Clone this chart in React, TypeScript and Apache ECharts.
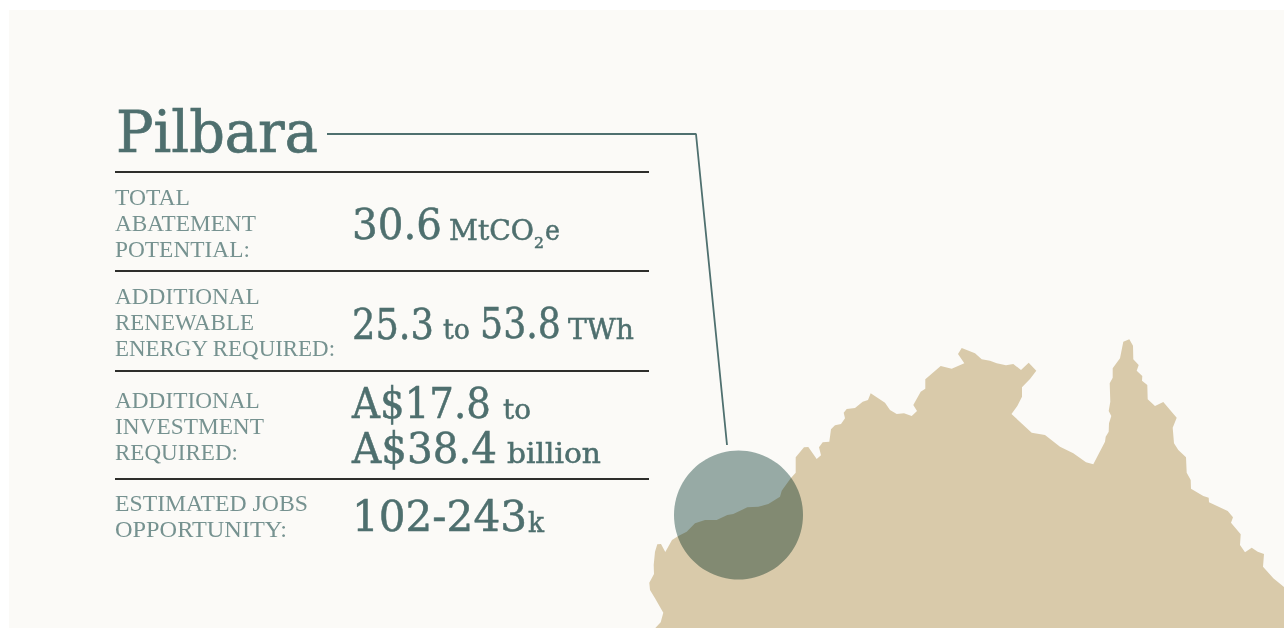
import React, { useEffect, useRef } from "react";
import * as echarts from "echarts";

const WIDTH = 1284;
const HEIGHT = 628;
const TEAL = "#4E6F6E";
const LABEL = "#769290";

// Northern Australian coastline.
const coastline: [number, number][] = [
  [655.3, 628], [660.7, 622.3], [663.3, 612.7], [655, 598.3], [650, 590], [649.3, 582.7], [654, 574],
  [653.7, 565], [655, 551.7], [657.3, 544.3], [661, 544], [665.3, 552], [672, 540], [678.3, 536],
  [686.7, 531.7], [695, 523.3], [705, 520], [716.7, 520], [727.3, 515], [733.3, 514], [747.3, 507.3],
  [758.3, 506.7], [768.3, 504], [780, 496.7], [781.7, 490.7], [790.7, 478.3], [795.7, 472.7],
  [795.7, 457.3], [804, 447.3], [808.3, 447], [816.7, 459], [821, 455.3], [819, 447.3], [822.7, 442.3],
  [829.3, 441.7], [831, 429.3], [835, 425.3], [841, 424], [845, 418.3], [843.7, 412.7], [846.7, 409],
  [855, 408], [862.7, 401.7], [868, 400], [870.7, 393.3], [885, 402.7], [890, 410], [896.7, 414],
  [904, 413.3], [911.7, 416], [917, 411], [913.3, 405], [920.7, 391.7], [925.3, 388.7], [925.3, 379.3],
  [940.7, 366], [951.7, 368.7], [964.3, 363.3], [958, 354], [961.7, 348], [975, 353.3], [981.7, 359.3],
  [990, 360.7], [996.7, 363.3], [1006, 365.3], [1013.3, 364], [1021, 370], [1028.7, 362.7],
  [1036.3, 370.7], [1030, 379], [1022, 387.3], [1022, 396.7], [1017.3, 406], [1011.5, 414],
  [1031.7, 432.7], [1045, 435], [1060, 446.7], [1073.3, 453.3], [1086, 462.3], [1093.3, 464.3],
  [1105, 441.7], [1105.7, 436.7], [1108.7, 431.7], [1109, 423.3], [1111.3, 416], [1108.7, 411],
  [1110.3, 401.7], [1109.7, 383.3], [1112.7, 377.7], [1112.7, 368.3], [1120, 358.3], [1123.3, 341.7],
  [1129.3, 339.3], [1133, 345.7], [1133.3, 359.3], [1138.7, 365], [1136.7, 370.7], [1142.3, 376],
  [1142, 380.7], [1147.3, 385], [1147.7, 399.3], [1155, 406], [1163.3, 402], [1176.7, 417.7],
  [1172.7, 427.7], [1174, 443.3], [1178.3, 450], [1186, 457.3], [1186.7, 472.7], [1190.7, 480],
  [1191, 488.7], [1203.3, 496], [1208.7, 497.7], [1209, 502.3], [1227.7, 511], [1233, 517.3],
  [1231, 522.7], [1240.7, 534.3], [1240, 545], [1245, 552.3], [1251.7, 547.7], [1257.7, 551.7],
  [1264, 554], [1263, 566.7], [1273.3, 578.3], [1284, 587], [1284, 628],
];

const regionMarker: [number, number][] = [[738.5, 515]];
const leaderLine: [number, number][] = [[327, 134], [696, 134], [727, 445]];
const ruleRows = [172, 271, 371, 479];

const title = "Pilbara";
const rowLabels = [
  ["TOTAL", "ABATEMENT", "POTENTIAL:"],
  ["ADDITIONAL", "RENEWABLE", "ENERGY REQUIRED:"],
  ["ADDITIONAL", "INVESTMENT", "REQUIRED:"],
  ["ESTIMATED JOBS", "OPPORTUNITY:"],
];
const rowValues = ["30.6", "MtCO", "2", "e", "25.3", "to", "53.8", "TWh", "A$17.8", "to", "A$38.4", "billion", "102-243", "k"];

// [left, right, baseline] of each label line
const labelBoxes = [
  [[115, 190, 205], [115, 256, 231], [115, 250, 257]],
  [[115, 260, 304], [115, 254, 330], [115, 336, 356]],
  [[115, 260, 408], [115, 264, 434], [115, 238, 460]],
  [[115, 308, 511], [115, 287, 537]],
];
// [left, right, baseline, font size] of each value fragment
const valueBoxes = [
  [352, 442, 240, 42], [449, 534, 240, 27], [534, 544, 249, 15], [545, 560, 240, 27],
  [352, 434, 339, 42], [443, 470, 339, 27], [480, 561, 339, 42], [568, 634, 339, 27],
  [352, 491, 419, 42], [503, 531, 419, 27], [352, 497, 464, 42], [507, 601, 464, 27],
  [352, 527, 532, 42], [528, 544, 532, 27],
];

const ctx = document.createElement("canvas").getContext("2d")!;

function fitted(text: string, left: number, right: number, baseline: number, size: number, family: string, fill: string, drop: number, bold: number) {
  const font = `${size}px ${family}`;
  ctx.font = font;
  const w = ctx.measureText(text).width || 1;
  return {
    type: "text",
    x: left,
    y: baseline - drop * size,
    scaleX: (right - left) / w,
    silent: true,
    style: { text, font, fill, stroke: bold ? fill : undefined, lineWidth: bold },
  };
}

export default function App() {
  const ref = useRef<HTMLDivElement>(null);
  useEffect(() => {
    document.body.style.margin = "0";
    document.body.style.background = "#ffffff";
    const chart = echarts.init(ref.current!, undefined, { renderer: "svg" });
    const serif = '"DejaVu Serif"';
    const light = '"Liberation Serif"';
    const elements: any[] = [
      {
        type: "rect",
        z: -1,
        silent: true,
        shape: { x: 9, y: 10, width: WIDTH - 9, height: HEIGHT - 10 },
        style: { fill: "#FBFAF7" },
      },
      fitted(title, 116, 318, 152, 58, serif, TEAL, 0.86, 0.7),
    ];
    rowLabels.forEach((lines, i) =>
      lines.forEach((t, j) => {
        const [l, r, b] = labelBoxes[i][j];
        elements.push(fitted(t, l, r, b, 23, light, LABEL, 0.83, 0));
      })
    );
    rowValues.forEach((t, i) => {
      const [l, r, b, s] = valueBoxes[i];
      elements.push(fitted(t, l, r, b, s, serif, TEAL, 0.86, 0.5));
    });

    chart.setOption({
      animation: false,
      backgroundColor: "#ffffff",
      grid: { left: 0, top: 0, right: 0, bottom: 0 },
      xAxis: { type: "value", min: 0, max: WIDTH, show: false },
      yAxis: { type: "value", min: 0, max: HEIGHT, inverse: true, show: false },
      tooltip: { show: false },
      graphic: { elements },
      series: [
        {
          type: "custom",
          silent: true,
          z: 1,
          coordinateSystem: "cartesian2d",
          data: [0],
          clip: false,
          renderItem: (_p: any, api: any) => ({
            type: "polygon",
            shape: { points: coastline.map((c) => api.coord(c)) },
            style: { fill: "#D9CAAA" },
          }),
        },
        {
          type: "scatter",
          silent: true,
          z: 2,
          symbol: "circle",
          symbolSize: 129,
          data: regionMarker,
          itemStyle: { color: "#99aeab", opacity: 1 },
        },
        {
          type: "line",
          silent: true,
          z: 3,
          data: leaderLine,
          symbol: "none",
          lineStyle: { color: "#4F706F", width: 1.8 },
        },
        ...ruleRows.map((y) => ({
          type: "line",
          silent: true,
          z: 3,
          data: [[115, y], [649, y]],
          symbol: "none",
          lineStyle: { color: "#2E2E2B", width: 2 },
        })),
      ],
    });

    ref.current!.querySelectorAll("path, circle").forEach((el) => {
      const f = (el.getAttribute("fill") || "").toLowerCase().replace(/\s/g, "");
      if (f === "#99aeab" || f === "rgb(153,174,171)") (el as HTMLElement).style.mixBlendMode = "multiply";
    });
    return () => chart.dispose();
  }, []);
  return <div ref={ref} style={{ position: "absolute", left: 0, top: 0, width: WIDTH, height: HEIGHT }} />;
}
